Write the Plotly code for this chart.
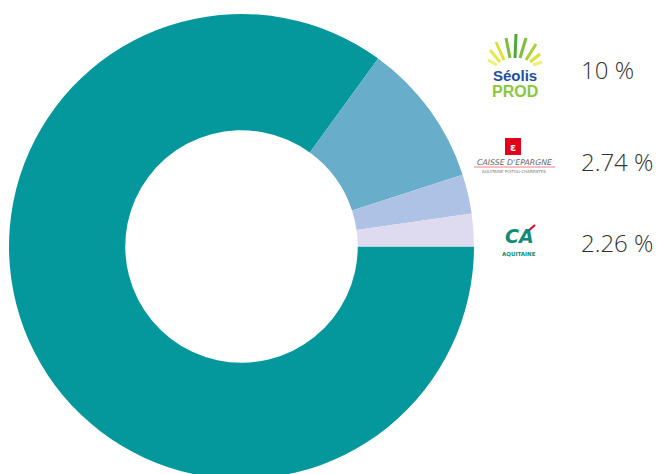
import plotly.graph_objects as go

labels = ["Autres", "Séolis PROD", "Caisse d'Epargne Aquitaine Poitou-Charentes", "Crédit Agricole Aquitaine"]
values = [85.0, 10.0, 2.74, 2.26]
value_texts = ["10 %", "2.74 %", "2.26 %"]
colors = ["#04989D", "#68ADCA", "#AEC2E5", "#DEDBF1"]

W, H = 657, 494

def px(x):
    return x / W

def py(y):
    return 1 - y / H

fig = go.Figure()
fig.add_trace(go.Pie(
    labels=labels,
    values=values,
    hole=0.5,
    sort=False,
    direction="clockwise",
    rotation=90,
    textinfo="none",
    marker=dict(colors=colors, line=dict(width=0)),
    showlegend=False,
    domain=dict(x=[px(9), px(474)], y=[py(479), py(14)]),
))

annotations = []
for txt, yc in zip(value_texts, [69, 161, 243]):
    annotations.append(dict(
        x=px(579), y=py(yc), xref="paper", yref="paper", xanchor="left", yanchor="middle",
        text=txt, showarrow=False,
        font=dict(family="Open Sans", size=24, color="#333333", weight=300),
    ))

# Séolis PROD logo text
annotations.append(dict(x=px(515), y=py(75), xref="paper", yref="paper", xanchor="center", yanchor="middle",
                        text="<b>Séolis</b>", showarrow=False,
                        font=dict(family="Liberation Sans", size=15, color="#1F4F9C")))
annotations.append(dict(x=px(515), y=py(91), xref="paper", yref="paper", xanchor="center", yanchor="middle",
                        text="<b>PROD</b>", showarrow=False,
                        font=dict(family="Liberation Sans", size=16, color="#8CC63E")))
# Caisse d'Epargne logo text
annotations.append(dict(x=px(514), y=py(162), xref="paper", yref="paper", xanchor="center", yanchor="middle",
                        text="<i>CAISSE D'EPARGNE</i>", showarrow=False,
                        font=dict(family="DejaVu Sans", size=7.8, color="#666666")))
annotations.append(dict(x=px(514), y=py(172), xref="paper", yref="paper", xanchor="center", yanchor="middle",
                        text="AQUITAINE POITOU-CHARENTES", showarrow=False,
                        font=dict(family="DejaVu Sans", size=4, color="#777777")))
annotations.append(dict(x=px(513), y=py(147), xref="paper", yref="paper", xanchor="center", yanchor="middle",
                        text="<b>ε</b>", showarrow=False,
                        font=dict(family="DejaVu Sans", size=11, color="#FFFFFF")))
# Crédit Agricole logo text
annotations.append(dict(x=px(519), y=py(236), xref="paper", yref="paper", xanchor="center", yanchor="middle",
                        text="<b><i>CA</i></b>", showarrow=False,
                        font=dict(family="DejaVu Sans", size=19, color="#0F8C78")))
annotations.append(dict(x=px(519), y=py(254), xref="paper", yref="paper", xanchor="center", yanchor="middle",
                        text="<b>AQUITAINE</b>", showarrow=False,
                        font=dict(family="DejaVu Sans", size=5.5, color="#0F8C78")))

shapes = []
shapes.append(dict(type="rect", xref="paper", yref="paper", x0=px(505), x1=px(521), y0=py(155), y1=py(138),
                   fillcolor="#E3001B", line=dict(width=0), layer="below"))
shapes.append(dict(type="line", xref="paper", yref="paper", x0=px(474), x1=px(555), y0=py(167), y1=py(167),
                   line=dict(color="#F08080", width=1.2)))
shapes.append(dict(type="line", xref="paper", yref="paper", x0=px(527), x1=px(535), y0=py(232), y1=py(225),
                   line=dict(color="#E2001A", width=2)))
leaf_specs = [
    (500, 62, 490, 50, "#E6E84A"), (504, 60, 496, 42, "#D8E23A"), (510, 58, 506, 38, "#7DBE3A"),
    (515, 58, 516, 34, "#4DA83A"), (520, 58, 526, 38, "#7DBE3A"), (526, 60, 536, 44, "#A6D03C"),
    (530, 62, 540, 54, "#D8E23A"), (497, 65, 488, 60, "#EEF07A"), (533, 65, 542, 62, "#EEF07A"),
]
for x0, y0, x1, y1, c in leaf_specs:
    shapes.append(dict(type="line", xref="paper", yref="paper", x0=px(x0), y0=py(y0), x1=px(x1), y1=py(y1),
                       line=dict(color=c, width=3)))

fig.update_layout(
    width=W, height=H,
    margin=dict(l=0, r=0, t=0, b=0),
    paper_bgcolor="#FFFFFF",
    plot_bgcolor="#FFFFFF",
    annotations=annotations,
    shapes=shapes,
)

fig.write_html(
    "out.html",
    config={"displayModeBar": False},
    post_script="document.body.style.margin='0px';document.body.style.overflow='hidden';"
                "document.documentElement.style.overflow='hidden';",
)
